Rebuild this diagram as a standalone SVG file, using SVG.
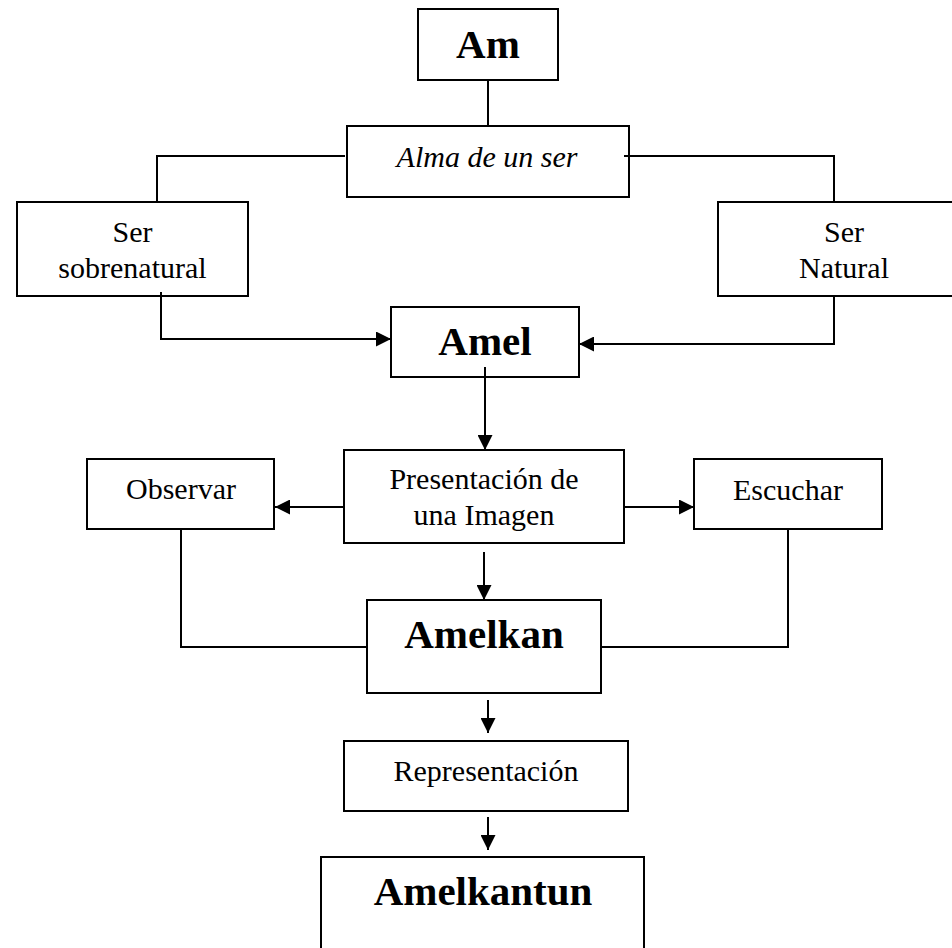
<svg xmlns="http://www.w3.org/2000/svg" width="952" height="948" viewBox="0 0 952 948">
<style>
.box{fill:#fff;stroke:#000;stroke-width:2}
.ln{fill:none;stroke:#000;stroke-width:2}
.t{font-family:"Liberation Serif","Times New Roman",serif;font-size:30px;text-anchor:middle;fill:#000}
.b{font-weight:bold;font-size:41px}
.i{font-style:italic}
</style>
<defs>
<marker id="ah" markerUnits="userSpaceOnUse" markerWidth="15" markerHeight="15" refX="15" refY="7.5" orient="auto">
<path d="M0,0 L15,7.5 L0,15 z" fill="#000"/>
</marker>
</defs>
<rect width="952" height="948" fill="#fff"/>
<g id="am"><rect class="box" x="418" y="9" width="140" height="71"/><text class="t b" x="488" y="58">Am</text></g>
<g id="alma"><rect class="box" x="347" y="126" width="282" height="71"/><text class="t i" x="487" y="167">Alma de un ser</text></g>
<g id="sobrenatural"><rect class="box" x="17" y="202" width="231" height="94"/><text class="t" x="132.5" y="242">Ser</text><text class="t" x="132.5" y="278">sobrenatural</text></g>
<g id="natural"><rect class="box" x="718" y="202" width="253" height="94"/><text class="t" x="844" y="242">Ser</text><text class="t" x="844" y="278">Natural</text></g>
<g id="amel"><rect class="box" x="391" y="307" width="188" height="70"/><text class="t b" x="485" y="355">Amel</text></g>
<g id="presentacion"><rect class="box" x="344" y="450" width="280" height="93"/><text class="t" x="484" y="489">Presentación de</text><text class="t" x="484" y="525">una Imagen</text></g>
<g id="observar"><rect class="box" x="87" y="459" width="187" height="70"/><text class="t" x="181" y="499">Observar</text></g>
<g id="escuchar"><rect class="box" x="694" y="459" width="188" height="70"/><text class="t" x="788" y="500">Escuchar</text></g>
<g id="amelkan"><rect class="box" x="367" y="600" width="234" height="93"/><text class="t b" x="484" y="648">Amelkan</text></g>
<g id="representacion"><rect class="box" x="344" y="741" width="284" height="70"/><text class="t" x="486" y="781">Representación</text></g>
<g id="amelkantun"><rect class="box" x="321" y="857" width="323" height="110"/><text class="t b" x="483" y="905">Amelkantun</text></g>
<g id="connectors">
<path class="ln" d="M488,80 V126"/>
<path class="ln" d="M345,156 H157 V202"/>
<path class="ln" d="M624,156 H834 V202"/>
<path class="ln" d="M161,292 V339 H391" marker-end="url(#ah)"/>
<path class="ln" d="M834,296 V344 H579" marker-end="url(#ah)"/>
<path class="ln" d="M485,367 V450" marker-end="url(#ah)"/>
<path class="ln" d="M344,507 H275" marker-end="url(#ah)"/>
<path class="ln" d="M624,507 H694" marker-end="url(#ah)"/>
<path class="ln" d="M484,552 V600" marker-end="url(#ah)"/>
<path class="ln" d="M181,529 V647 H367"/>
<path class="ln" d="M788,529 V647 H601"/>
<path class="ln" d="M488,700 V733" marker-end="url(#ah)"/>
<path class="ln" d="M488,817 V850" marker-end="url(#ah)"/>
</g>
</svg>
